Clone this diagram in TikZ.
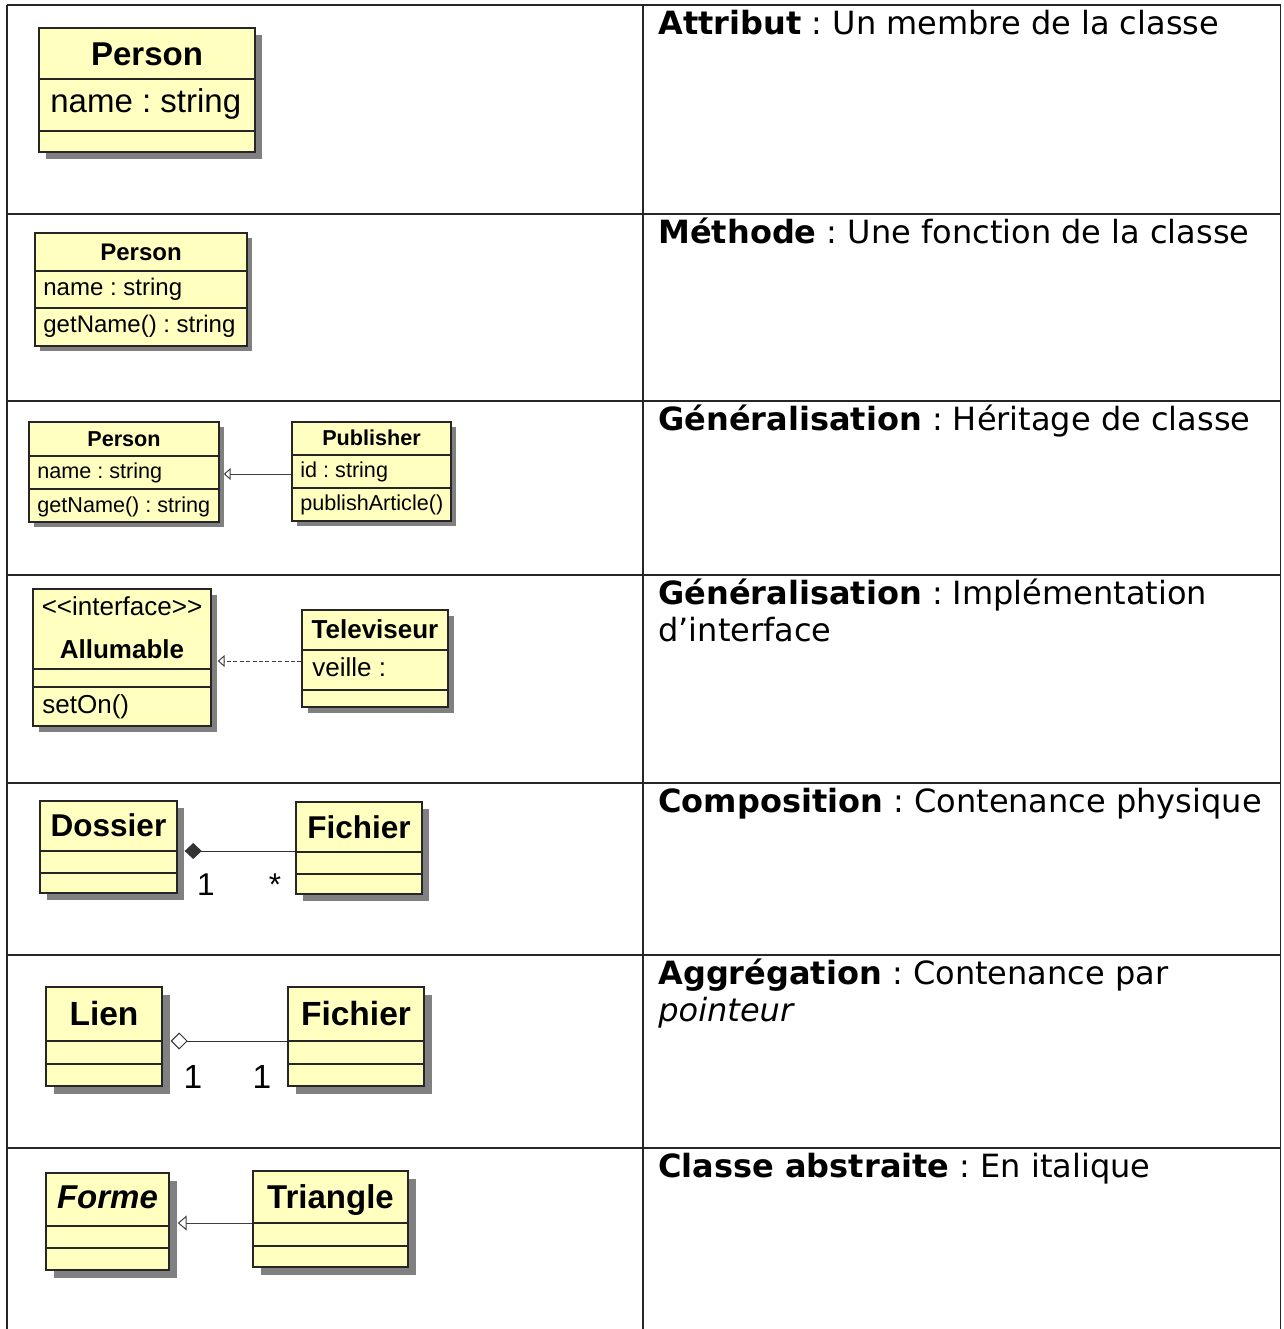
\documentclass[tikz,border=0pt]{standalone}
\usepackage{fontspec}
\usetikzlibrary{arrows.meta,shadows,fit}
\newfontfamily\uml{Liberation Sans}
\newfontfamily\texte{DejaVu Sans}
\definecolor{jaune}{RGB}{255,255,192}
\frenchspacing
\tikzset{
  ligne/.style={line width=0.75pt, black!85},
  classe/.style={draw=black!85, line width=0.7pt, fill=jaune, inner sep=0pt,
    drop shadow={shadow xshift=#1, shadow yshift=-#1, fill=black!50, opacity=1}},
  classe/.default=3.5pt,
  sep/.style={draw=black!85, line width=0.7pt},
  titre/.style={anchor=base, inner sep=0pt, execute at begin node=\bfseries},
  membre/.style={anchor=base west, inner sep=0pt},
  herit/.style={-{Triangle[open,length=3.5pt,width=6pt]}, line width=0.5pt, black!75},
  compo/.style={{Diamond[length=8.5pt,width=8pt]}-, line width=0.5pt, black!80},
  aggreg/.style={{Diamond[open,length=8.5pt,width=8.5pt]}-, line width=0.5pt, black!80},
  desc/.style={anchor=base west, inner sep=0pt, align=left,
    font=\texte\fontsize{16}{18.5}\selectfont}
}
\begin{document}
\begin{tikzpicture}[x=0.5pt, y={(0pt,-0.5pt)}]
\useasboundingbox (0,0) rectangle (1284,1329);

% tableau
\foreach \y in {5,214,401,575,783,955,1148}
   \draw[ligne] (7,\y) -- (1280.5,\y);
\foreach \x in {7,643,1280.5}
   \draw[ligne] (\x,5) -- (\x,1329);

% attribut
\begin{scope}[font=\uml\fontsize{16.5}{19}\selectfont]
\node[classe=3.5pt, fit={(39,28) (255,152)}] (pers1) {};
\foreach \y in {79,131}
   \draw[sep] (pers1.west |- 0,\y) -- (pers1.east |- 0,\y);
\node[titre] (pers1-nom) at (147,65) {Person};
\node[membre] (pers1-att) at (50,112) {name : string};
\end{scope}

% methode
\begin{scope}[font=\uml\fontsize{12}{14}\selectfont]
\node[classe=2.5pt, fit={(35,233) (247,346)}] (pers2) {};
\foreach \y in {271,308}
   \draw[sep] (pers2.west |- 0,\y) -- (pers2.east |- 0,\y);
\node[titre] (pers2-nom) at (141,260) {Person};
\node[membre] (pers2-att) at (43,295) {name : string};
\node[membre] (pers2-op) at (43,332) {getName() : string};
\end{scope}

% heritage
\begin{scope}[font=\uml\fontsize{10.8}{13}\selectfont]
\node[classe=2.5pt, fit={(29,422) (219,522)}] (pers3) {};
\foreach \y in {456,489}
   \draw[sep] (pers3.west |- 0,\y) -- (pers3.east |- 0,\y);
\node[titre] (pers3-nom) at (124,446) {Person};
\node[membre] (pers3-att) at (37,478) {name : string};
\node[membre] (pers3-op) at (37,512) {getName() : string};
\node[classe=2.5pt, fit={(292,422) (451,521)}] (pub) {};
\foreach \y in {455,488}
   \draw[sep] (pub.west |- 0,\y) -- (pub.east |- 0,\y);
\node[titre] (pub-nom) at (371.5,445) {Publisher};
\node[membre] (pub-att) at (300,477) {id : string};
\node[membre] (pub-op) at (300,510) {publishArticle()};
\draw[herit, shorten >=2pt] (pub.west |- 0,474) -- (pers3.east |- 0,474);
\end{scope}

% interface
\begin{scope}[font=\uml\fontsize{13}{15}\selectfont]
\node[classe=3pt, fit={(33,589) (211,726)}] (allu) {};
\foreach \y in {669,687}
   \draw[sep] (allu.west |- 0,\y) -- (allu.east |- 0,\y);
\node[anchor=base, inner sep=0pt] (allu-st) at (122,615) {<{}<interface>{}>};
\node[titre] (allu-nom) at (122,658) {Allumable};
\node[membre] (allu-op) at (42,713) {setOn()};
\node[classe=3pt, fit={(302,610) (448,707)}] (tele) {};
\foreach \y in {650,690}
   \draw[sep] (tele.west |- 0,\y) -- (tele.east |- 0,\y);
\node[titre] (tele-nom) at (375,638) {Televiseur};
\node[membre] (tele-att) at (312,676) {veille :};
\draw[herit, dash pattern=on 2pt off 1.2pt, shorten >=3pt] (tele.west |- 0,661) -- (allu.east |- 0,661);
\end{scope}

% composition
\begin{scope}[font=\uml\fontsize{15.75}{18}\selectfont]
\node[classe=3.5pt, fit={(40,801) (177,893)}] (dos) {};
\foreach \y in {851,873}
   \draw[sep] (dos.west |- 0,\y) -- (dos.east |- 0,\y);
\node[titre] (dos-nom) at (108.5,836) {Dossier};
\node[classe=3.5pt, fit={(296,802) (422,894)}] (fic5) {};
\foreach \y in {852,874}
   \draw[sep] (fic5.west |- 0,\y) -- (fic5.east |- 0,\y);
\node[titre] (fic5-nom) at (359,838) {Fichier};
\draw[compo, shorten <=3.5pt] (dos.east |- 0,851) -- (fic5.west |- 0,851);
\node[anchor=base, inner sep=0pt] (dos-mult) at (206,895) {1};
\node[anchor=base, inner sep=0pt] (fic5-mult) at (275,895) {*};
\end{scope}

% aggregation
\begin{scope}[font=\uml\fontsize{16.75}{19}\selectfont]
\node[classe=3.75pt, fit={(46,987) (162,1086)}] (lien) {};
\foreach \y in {1041,1064}
   \draw[sep] (lien.west |- 0,\y) -- (lien.east |- 0,\y);
\node[titre] (lien-nom) at (104,1025) {Lien};
\node[classe=3.75pt, fit={(288,987) (424,1086)}] (fic6) {};
\foreach \y in {1041,1064}
   \draw[sep] (fic6.west |- 0,\y) -- (fic6.east |- 0,\y);
\node[titre] (fic6-nom) at (356,1025) {Fichier};
\draw[aggreg, shorten <=4pt] (lien.east |- 0,1041) -- (fic6.west |- 0,1041);
\node[anchor=base, inner sep=0pt] (lien-mult) at (193,1088) {1};
\node[anchor=base, inner sep=0pt] (fic6-mult) at (262,1088) {1};
\end{scope}

% classe abstraite
\begin{scope}[font=\uml\fontsize{16.5}{19}\selectfont]
\node[classe=4pt, fit={(46,1173) (169,1270)}] (forme) {};
\foreach \y in {1226,1248}
   \draw[sep] (forme.west |- 0,\y) -- (forme.east |- 0,\y);
\node[titre] (forme-nom) at (107.5,1208) {\itshape Forme};
\node[classe=4pt, fit={(253,1171) (408,1267)}] (tri) {};
\foreach \y in {1223,1246}
   \draw[sep] (tri.west |- 0,\y) -- (tri.east |- 0,\y);
\node[titre] (tri-nom) at (330.5,1208) {Triangle};
\draw[herit, -{Triangle[open,length=4.5pt,width=7.5pt]}, shorten >=4pt] (tri.west |- 0,1223) -- (forme.east |- 0,1223);
\end{scope}

% descriptions
\node[desc] (d1) at (658,34) {\textbf{Attribut} : Un membre de la classe};
\node[desc] (d2) at (658,243) {\textbf{Méthode} : Une fonction de la classe};
\node[desc] (d3) at (658,430) {\textbf{Généralisation} : Héritage de classe};
\node[desc] (d4) at (658,641) {\textbf{Généralisation} : Implémentation\\d’interface};
\node[desc] (d5) at (658,812) {\textbf{Composition} : Contenance physique};
\node[desc] (d6) at (658,1021) {\textbf{Aggrégation} : Contenance par\\\textit{pointeur}};
\node[desc] (d7) at (658,1177) {\textbf{Classe abstraite} : En italique};
\end{tikzpicture}
\end{document}
